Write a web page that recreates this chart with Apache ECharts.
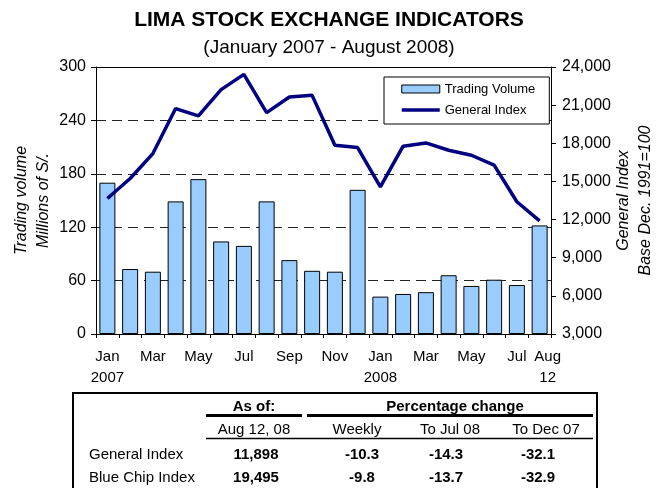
<!DOCTYPE html>
<html>
<head>
<meta charset="utf-8">
<script src="https://cdn.jsdelivr.net/npm/echarts@6/dist/echarts.min.js"></script>
<style>
  html, body { margin: 0; padding: 0; background: #fff; }
  #chart { width: 658px; height: 488px; }
</style>
</head>
<body>
<div id="chart"></div>
<script>
var months = ['Jan\n2007', 'Feb', 'Mar', 'Apr', 'May', 'Jun', 'Jul', 'Aug', 'Sep', 'Oct', 'Nov', 'Dec',
              'Jan\n2008', 'Feb', 'Mar', 'Apr', 'May', 'Jun', 'Jul', 'Aug\n12'];
// Trading volume, millions of S/.
var volume = [170, 73, 70, 149, 174, 104, 99, 149, 83, 71, 70, 162, 42, 45, 47, 66, 54, 61, 55, 122];
// General Index, base Dec. 1991=100
var generalIndex = [13660, 15230, 17190, 20730, 20150, 22220, 23420, 20410, 21640, 21770, 17850, 17660,
                    14570, 17770, 18030, 17450, 17060, 16280, 13400, 11898];

var tableTop = ['As of:', 'Percentage change'];
var tableSub = ['Aug 12, 08', 'Weekly', 'To Jul 08', 'To Dec 07'];
var rowNames = ['General Index', 'Blue Chip Index'];
var rowGeneral = ['11,898', '-10.3', '-14.3', '-32.1'];
var rowBlueChip = ['19,495', '-9.8', '-13.7', '-32.9'];

var font = 'Liberation Sans, Arial, sans-serif';
var myChart = echarts.init(document.getElementById('chart'));
var last = months.length - 1;

// table drawn underneath the chart
var subX = [254, 357, 450, 546];
var valX = [256, 362, 446, 538];
var rows = [rowGeneral, rowBlueChip];
var rowY = [455, 478];
var tableParts = [
    { type: 'rect', shape: { x: 73, y: 393, width: 524, height: 120 },
      style: { fill: 'none', stroke: '#000', lineWidth: 2 } },
    { type: 'text', x: 254, y: 407, style: { text: tableTop[0], font: 'bold 15px ' + font, fill: '#000', align: 'center', verticalAlign: 'middle' } },
    { type: 'text', x: 455, y: 407, style: { text: tableTop[1], font: 'bold 15px ' + font, fill: '#000', align: 'center', verticalAlign: 'middle' } },
    { type: 'line', shape: { x1: 206, y1: 415.5, x2: 302, y2: 415.5 }, style: { stroke: '#000', lineWidth: 3 } },
    { type: 'line', shape: { x1: 307, y1: 415.5, x2: 593, y2: 415.5 }, style: { stroke: '#000', lineWidth: 3 } },
    { type: 'line', shape: { x1: 206, y1: 438.5, x2: 593, y2: 438.5 }, style: { stroke: '#000', lineWidth: 1.5 } }
];
tableSub.forEach(function (t, i) {
    tableParts.push({ type: 'text', x: subX[i], y: 430,
        style: { text: t, font: '15px ' + font, fill: '#000', align: 'center', verticalAlign: 'middle' } });
});
rowNames.forEach(function (name, r) {
    tableParts.push({ type: 'text', x: 89, y: rowY[r],
        style: { text: name, font: '15px ' + font, fill: '#000', align: 'left', verticalAlign: 'middle' } });
    rows[r].forEach(function (v, i) {
        tableParts.push({ type: 'text', x: valX[i], y: rowY[r],
            style: { text: v, font: 'bold 15px ' + font, fill: '#000', align: 'center', verticalAlign: 'middle' } });
    });
});

var option = {
    backgroundColor: '#fff',
    animation: false,
    textStyle: { fontFamily: font },
    title: [
        { text: 'LIMA STOCK EXCHANGE INDICATORS', left: 'center', top: 8, padding: 0,
          textStyle: { fontSize: 21, fontWeight: 'bold', color: '#000', lineHeight: 24 } },
        { text: '(January 2007 - August 2008)', left: 'center', top: 37, padding: 0,
          textStyle: { fontSize: 19, fontWeight: 'normal', color: '#000', lineHeight: 22 } }
    ],
    legend: {
        orient: 'vertical',
        left: 384,
        top: 77,
        padding: [5.5, 14, 7.5, 16],
        itemWidth: 38,
        itemHeight: 8,
        itemGap: 8,
        itemTextGap: 3,
        backgroundColor: '#fff',
        borderColor: '#000',
        borderWidth: 1,
        borderRadius: 0,
        textStyle: { fontSize: 13, color: '#000' },
        data: [
            { name: 'Trading Volume', icon: 'rect', itemStyle: { borderWidth: 1, borderColor: '#000' } },
            { name: 'General Index', itemStyle: { opacity: 0 }, lineStyle: { width: 3.5, color: '#000080' } }
        ]
    },
    grid: { left: 96, right: 107, top: 67, bottom: 154, containLabel: false, outerBoundsMode: 'none' },
    xAxis: [{
        type: 'category',
        data: months,
        axisLine: { lineStyle: { color: '#000', width: 1 } },
        axisTick: { show: true, interval: 0, length: 4, lineStyle: { color: '#000' } },
        axisLabel: {
            interval: function (i) { return i % 2 === 0; },
            hideOverlap: false,
            color: '#000', fontSize: 15, lineHeight: 21, margin: 12
        }
    }, {
        // second bottom axis only for the last "Aug 12" label
        type: 'category',
        position: 'bottom',
        data: months,
        axisLine: { show: false },
        axisTick: { show: false },
        splitLine: { show: false },
        axisLabel: {
            interval: function (i) { return i === last; },
            showMaxLabel: true,
            color: '#000', fontSize: 15, lineHeight: 21, margin: 12,
            formatter: function (v) {
                return v.split('\n').map(function (s) { return '{s|' + s + '}'; }).join('\n');
            },
            rich: { s: { fontSize: 15, lineHeight: 21, color: '#000', padding: [0, 0, 0, 16] } }
        }
    }, {
        type: 'category',
        position: 'top',
        data: months,
        axisLine: { lineStyle: { color: '#000', width: 1 } },
        axisTick: { show: false },
        axisLabel: { show: false }
    }],
    yAxis: [{
        type: 'value',
        min: 0, max: 300, interval: 60,
        name: 'Trading volume\nMillions of S/.',
        nameLocation: 'middle',
        nameRotate: 90,
        nameGap: 41,
        nameMoveOverlap: false,
        nameTextStyle: { fontSize: 16, fontStyle: 'italic', color: '#000', lineHeight: 22 },
        axisLine: { show: true, lineStyle: { color: '#000' } },
        axisTick: { show: true, length: 5, lineStyle: { color: '#000' } },
        axisLabel: { color: '#000', fontSize: 16, margin: 10 },
        splitLine: { show: true, lineStyle: { color: '#222', type: [10, 6], width: 1 } }
    }, {
        type: 'value',
        position: 'right',
        min: 3000, max: 24000, interval: 3000,
        name: 'General Index\nBase Dec. 1991=100',
        nameLocation: 'middle',
        nameRotate: 90,
        nameGap: 62,
        nameMoveOverlap: false,
        nameTextStyle: { fontSize: 16, fontStyle: 'italic', color: '#000', lineHeight: 22 },
        axisLine: { show: true, lineStyle: { color: '#000' } },
        axisTick: { show: true, length: 5, lineStyle: { color: '#000' } },
        axisLabel: {
            color: '#000', fontSize: 16, margin: 11,
            formatter: function (v) { return v.toLocaleString('en-US'); }
        },
        splitLine: { show: false }
    }],
    series: [{
        name: 'Trading Volume',
        type: 'bar',
        yAxisIndex: 0,
        barWidth: 16,
        itemStyle: { color: '#99CCFF', borderColor: '#000', borderWidth: 1 },
        data: volume
    }, {
        name: 'General Index',
        type: 'line',
        yAxisIndex: 1,
        symbol: 'none',
        lineStyle: { color: '#000080', width: 3.5 },
        itemStyle: { color: '#000080' },
        data: generalIndex
    }],
    graphic: tableParts
};

myChart.setOption(option);
</script>
</body>
</html>
